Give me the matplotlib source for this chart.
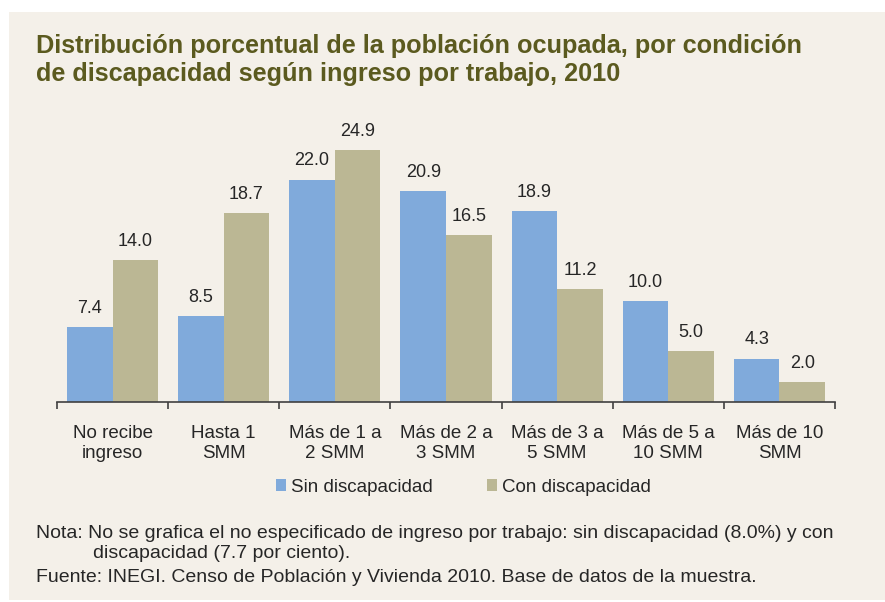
import matplotlib.pyplot as plt
import numpy as np
from matplotlib.patches import Rectangle

categories = ['No recibe\ningreso', 'Hasta 1\nSMM', 'Más de 1 a\n2 SMM', 'Más de 2 a\n3 SMM',
              'Más de 3 a\n5 SMM', 'Más de 5 a\n10 SMM', 'Más de 10\nSMM']
sin_disc = [7.4, 8.5, 22.0, 20.9, 18.9, 10.0, 4.3]
con_disc = [14.0, 18.7, 24.9, 16.5, 11.2, 5.0, 2.0]
series_names = ['Sin discapacidad', 'Con discapacidad']

bg = '#f4f0e9'
blue = '#80aadb'
tan = '#bbb794'
title_col = '#5b5a1f'
txt = '#262626'

plt.rcParams['font.family'] = ['Liberation Sans', 'DejaVu Sans']

fig = plt.figure(figsize=(8.85, 6.02), dpi=100)
fig.patch.set_facecolor('white')
fig.patches.append(Rectangle((9 / 885, 0.003), 876 / 885, 1 - 12 / 602 - 0.003,
                             transform=fig.transFigure, facecolor=bg, edgecolor='none', zorder=-10))

ax = fig.add_axes([57 / 885, 1 - 402 / 602, (835 - 57) / 885, 273 / 602])
ax.patch.set_alpha(0)

x = np.arange(len(categories))
w = 0.41
b1 = ax.bar(x - w / 2, sin_disc, w, color=blue, label=series_names[0])
b2 = ax.bar(x + w / 2, con_disc, w, color=tan, label=series_names[1])
for bars, vals in ((b1, sin_disc), (b2, con_disc)):
    for r, v in zip(bars, vals):
        ax.text(r.get_x() + r.get_width() / 2, v + 1.0, f'{v:.1f}', ha='center', va='bottom',
                fontsize=13, color=txt)

ax.set_xlim(-0.5, len(categories) - 0.5)
ax.set_ylim(0, 27)
for s in ('top', 'right', 'left'):
    ax.spines[s].set_visible(False)
ax.spines['bottom'].set_color('#404040')
ax.spines['bottom'].set_linewidth(1.2)
ax.set_yticks([])
ax.set_xticks(np.arange(len(categories) + 1) - 0.5)
ax.set_xticklabels([])
ax.tick_params(axis='x', length=5, color='#404040', width=1.2)
for i, c in enumerate(categories):
    ax.text(i, -2.3, c, ha='center', va='top', fontsize=13.5, color=txt, linespacing=1.2)

fig.legend(handles=[b1, b2], loc='center', bbox_to_anchor=(463 / 885, 1 - 487 / 602),
           ncol=2, frameon=False, fontsize=13.5, handlelength=0.55, handleheight=0.55,
           handletextpad=0.25, columnspacing=2.9, labelcolor=txt)

fig.text(36 / 885, 1 - 60 / 602, 'Distribución porcentual de la población ocupada, por condición\n'
         'de discapacidad según ingreso por trabajo, 2010', ha='left', va='center',
         fontsize=18.2, fontweight='bold', color=title_col, linespacing=1.2)

note_fs = 14
fig.text(36 / 885, 1 - 533 / 602, 'Nota: No se grafica el no especificado de ingreso por trabajo: '
         'sin discapacidad (8.0%) y con', ha='left', va='center', fontsize=note_fs, color=txt)
fig.text(93 / 885, 1 - 554 / 602, 'discapacidad (7.7 por ciento).', ha='left', va='center',
         fontsize=note_fs, color=txt)
fig.text(36 / 885, 1 - 577 / 602, 'Fuente: INEGI. Censo de Población y Vivienda 2010. '
         'Base de datos de la muestra.', ha='left', va='center', fontsize=note_fs, color=txt)

fig.savefig('out.png', dpi=100, facecolor=fig.get_facecolor())
